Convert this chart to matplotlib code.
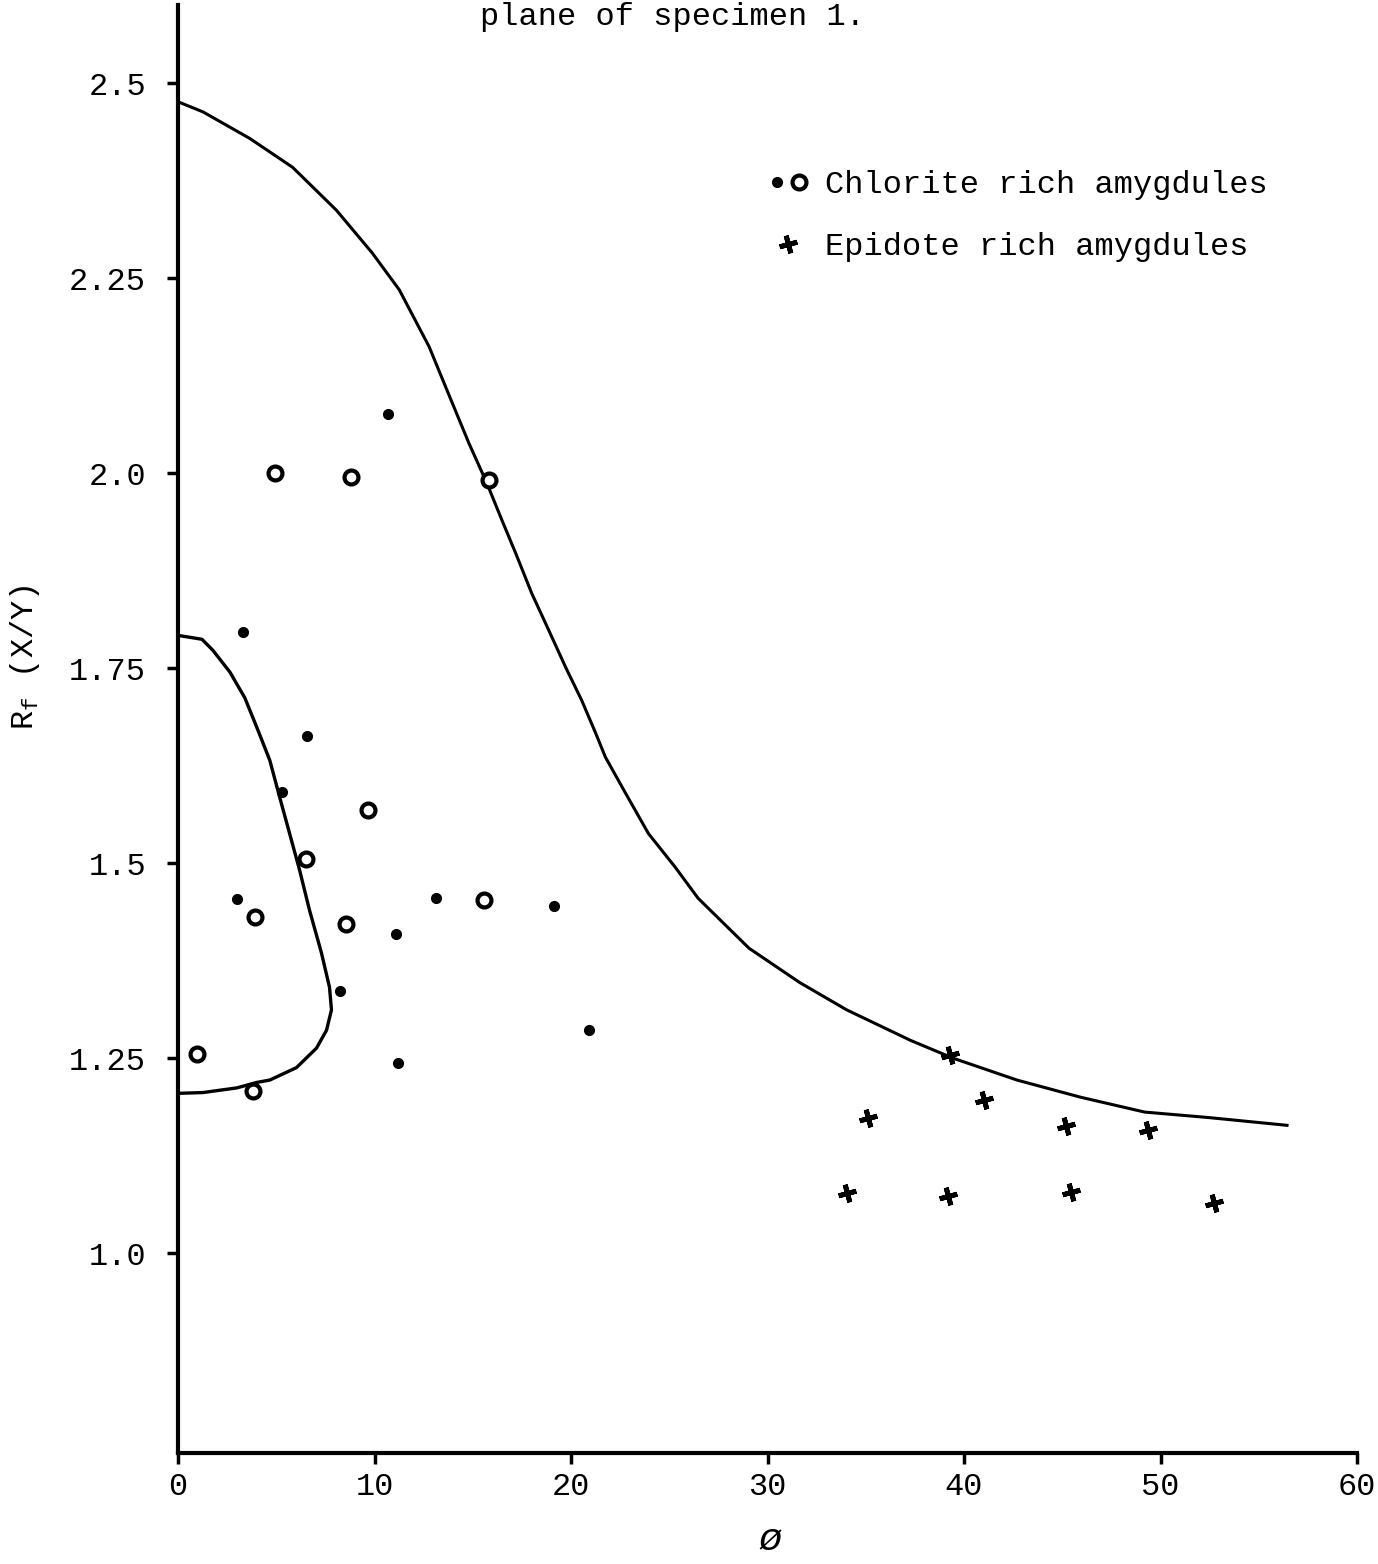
import numpy as np
import matplotlib
matplotlib.use("Agg")
import matplotlib.pyplot as plt
from matplotlib.legend_handler import HandlerTuple

plt.rcParams['font.family'] = ['Liberation Mono', 'DejaVu Sans']
plt.rcParams['mathtext.fontset'] = 'custom'
plt.rcParams['mathtext.rm'] = 'Liberation Mono'
plt.rcParams['mathtext.it'] = 'Liberation Mono'

# chlorite rich amygdules - open circles
circ_x = [4.92, 8.82, 15.82, 9.69, 6.49, 3.90, 8.57, 15.57, 0.96, 3.80]
circ_y = [2.000, 1.995, 1.991, 1.568, 1.506, 1.431, 1.422, 1.453, 1.255, 1.208]
# chlorite rich amygdules - dots
dot_x = [10.70, 3.30, 6.54, 5.27, 2.99, 11.11, 13.13, 19.12, 8.22, 20.94, 11.21]
dot_y = [2.076, 1.796, 1.663, 1.591, 1.454, 1.409, 1.455, 1.445, 1.336, 1.286, 1.244]
# epidote rich amygdules
epi_x = [35.09, 41.02, 45.18, 49.34, 34.03, 39.20, 45.44, 52.74, 39.30]
epi_y = [1.174, 1.197, 1.163, 1.158, 1.077, 1.073, 1.078, 1.065, 1.254]

# outer curve
big_x = [0, 1.27, 3.65, 5.83, 8.06, 9.89, 11.26, 12.78, 13.89, 14.81, 15.72, 16.48,
         17.19, 18.00, 18.86, 19.73, 20.54, 21.25, 21.75, 22.77, 23.94, 25.30, 26.47,
         29.06, 31.64, 34.03, 37.27, 39.45, 42.70, 45.94, 49.19, 52.43, 56.44]
big_y = [2.476, 2.463, 2.429, 2.392, 2.337, 2.282, 2.235, 2.162, 2.094, 2.038, 1.987,
         1.940, 1.897, 1.846, 1.799, 1.751, 1.709, 1.667, 1.636, 1.590, 1.538, 1.495,
         1.455, 1.391, 1.347, 1.312, 1.273, 1.250, 1.222, 1.200, 1.181, 1.174, 1.164]
# inner curve
small_x = [0.0, 1.22, 1.77, 2.64, 3.40, 4.06, 4.67, 5.17, 5.68, 6.19, 6.69, 7.30,
           7.71, 7.81, 7.56, 7.05, 6.03, 4.67, 4.01, 3.0, 1.27, 0.0]
small_y = [1.792, 1.787, 1.773, 1.745, 1.712, 1.671, 1.632, 1.585, 1.538, 1.491,
           1.440, 1.385, 1.341, 1.312, 1.286, 1.263, 1.238, 1.222, 1.219, 1.212,
           1.206, 1.205]

yticks = [1.0, 1.25, 1.5, 1.75, 2.0, 2.25, 2.5]
ylabels = ["1.0", "1.25", "1.5", "1.75", "2.0", "2.25", "2.5"]
xticks = [0, 10, 20, 30, 40, 50, 60]

fs = 23
fig = plt.figure(figsize=(13.78, 15.64), dpi=100)
ax = fig.add_axes([178/1378, 1 - 1453/1564, (1357 - 178)/1378, (1453 - 5)/1564])

ax.plot(big_x, big_y, color='black', lw=2.2, solid_joinstyle='round')
ax.plot(small_x, small_y, color='black', lw=2.4, solid_joinstyle='round')
d, = ax.plot(dot_x, dot_y, 'o', color='black', ms=7, ls='none')
c, = ax.plot(circ_x, circ_y, 'o', mfc='white', mec='black', mew=3, ms=10, ls='none')
e, = ax.plot(epi_x, epi_y, marker=(4, 2, 15), color='black', mew=3.5, ms=13, ls='none')

ax.set_xlim(0, 60)
ax.set_ylim(0.744, 2.6)
ax.set_xticks(xticks)
ax.set_xticklabels([str(v) for v in xticks], fontsize=fs)
ax.set_yticks(yticks)
ax.set_yticklabels(ylabels, fontsize=fs)
ax.tick_params(axis='y', direction='out', length=8, width=2.5, pad=15)
ax.tick_params(axis='x', direction='out', length=8, width=2.5, pad=6)
for s in ['top', 'right']:
    ax.spines[s].set_visible(False)
for s in ['left', 'bottom']:
    ax.spines[s].set_linewidth(3)

leg = ax.legend([(d, c), e], ["Chlorite rich amygdules", "Epidote rich amygdules"],
                handler_map={tuple: HandlerTuple(ndivide=None, pad=0.1)},
                loc='upper left', bbox_to_anchor=(0.50, 0.886), frameon=False,
                fontsize=fs, handlelength=1.3, handletextpad=0.5,
                labelspacing=1.0, borderpad=0, borderaxespad=0)

fig.text(672/1378, 1 - 2/1564, "plane of specimen 1.", ha='center', va='top', fontsize=fs)
fig.text(25/1378, 1 - 657/1564, "R$_f$ (X/Y)", rotation=90, ha='center', va='center', fontsize=fs)
fig.text(770/1378, 1 - 1540/1564, "ø", ha='center', va='center', fontsize=28, style='italic')

fig.savefig("out.png", dpi=100)
